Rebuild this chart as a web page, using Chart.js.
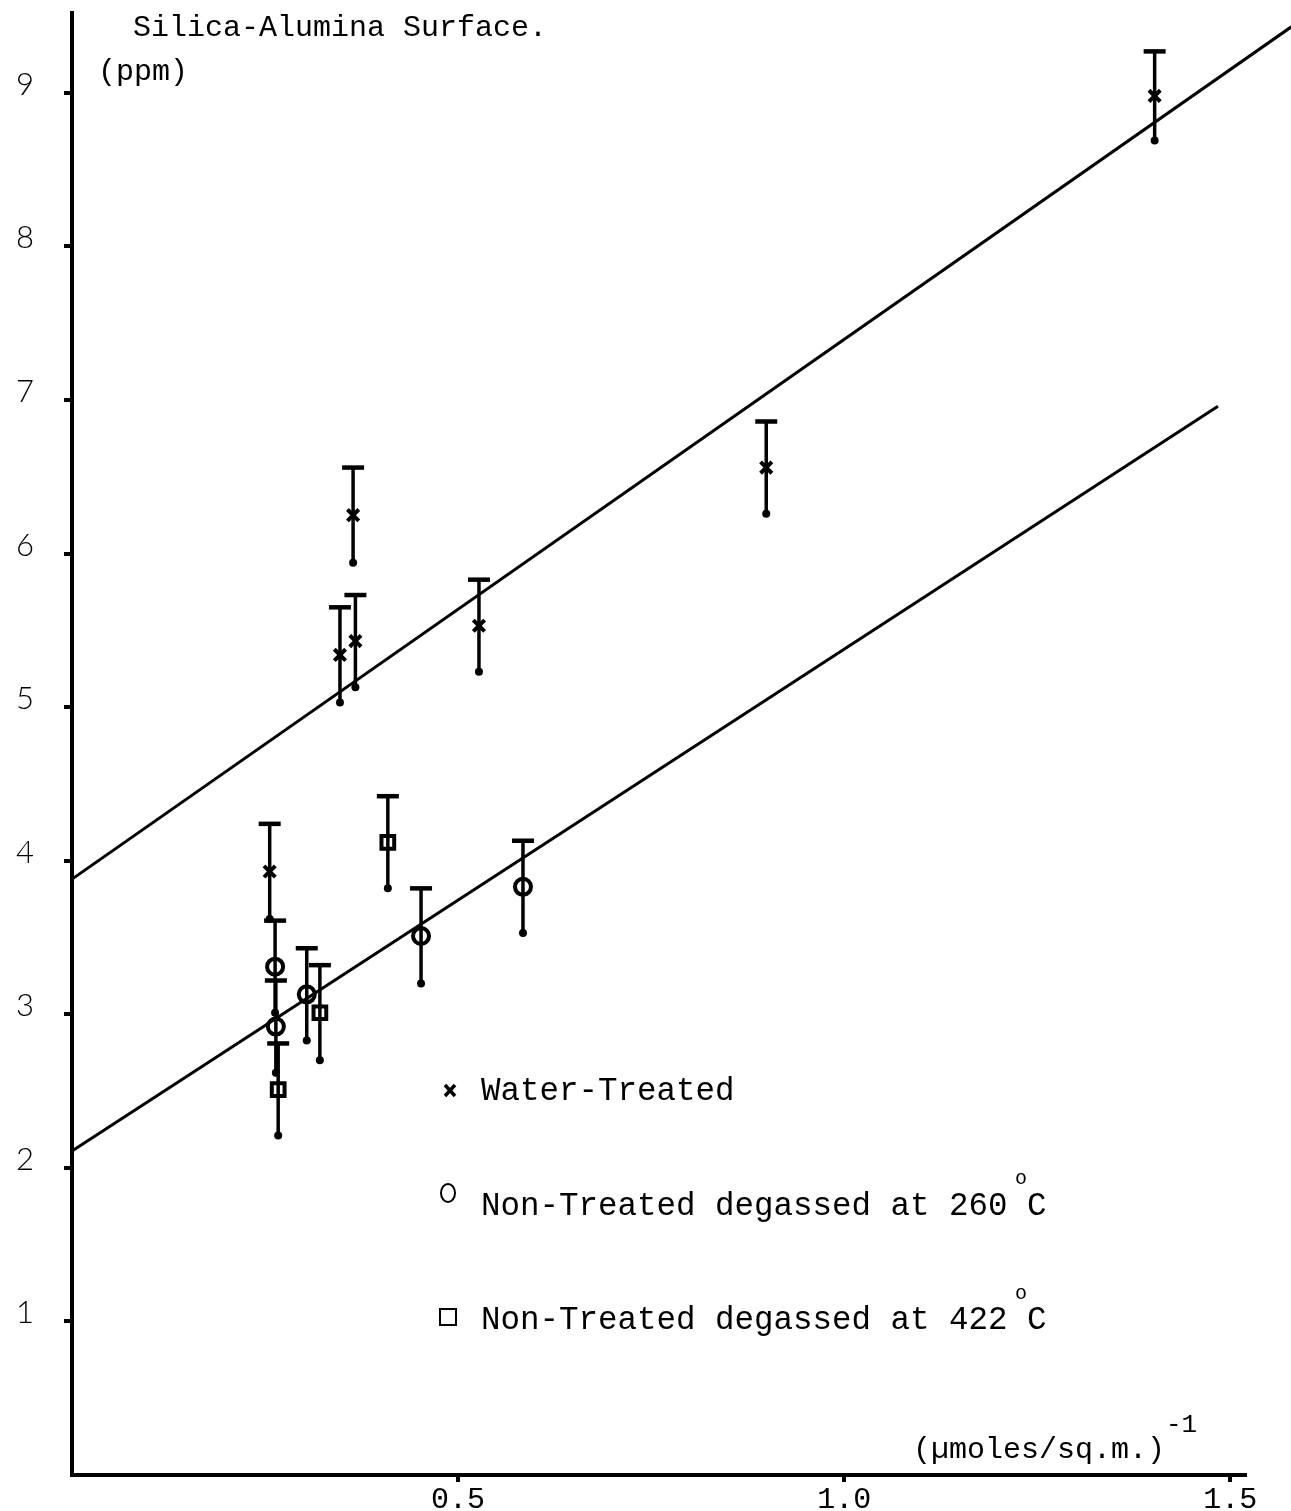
<!DOCTYPE html>
<html lang="en">
<head>
<meta charset="UTF-8">
<title>Silica-Alumina Surface</title>
<script src="https://cdn.jsdelivr.net/npm/chart.js"></script>
<style>
  html, body { margin: 0; padding: 0; background: #fff; }
  canvas { display: block; }
</style>
</head>
<body>
<canvas id="chart" width="1291" height="1511"></canvas>
<script>
// values
const xTicks = [0.5, 1.0, 1.5];
const yTicks = [1, 2, 3, 4, 5, 6, 7, 8, 9];

const waterX = [0.256, 0.347, 0.367, 0.364, 0.527, 0.899, 1.402];
const waterY = [3.93, 5.34, 5.43, 6.25, 5.53, 6.56, 8.98];
const waterErr = [0.31, 0.31, 0.3, 0.31, 0.3, 0.3, 0.29];

const deg260X = [0.263, 0.264, 0.304, 0.452, 0.584];
const deg260Y = [3.31, 2.92, 3.13, 3.51, 3.83];
const deg260Err = [0.3, 0.3, 0.3, 0.31, 0.3];

const deg422X = [0.267, 0.321, 0.409];
const deg422Y = [2.51, 3.01, 4.12];
const deg422Err = [0.3, 0.31, 0.3];

// fitted lines (end points)
const upperFitX = [0, 1.579];
const upperFitY = [3.88, 9.43];
const lowerFitX = [0, 1.484];
const lowerFitY = [2.11, 6.96];

const pts = (xs, ys) => xs.map((x, i) => ({ x: x, y: ys[i] }));
const errs = [waterErr, deg260Err, deg422Err];

const mono = '"Liberation Mono", "DejaVu Sans Mono", monospace';

// vertical error bars: T cap on top, dot at the bottom
const errorBars = {
  id: 'errorBars',
  afterDatasetsDraw(chart) {
    const ctx = chart.ctx;
    const xs = chart.scales.x, ys = chart.scales.y;
    ctx.save();
    ctx.strokeStyle = '#000';
    ctx.fillStyle = '#000';
    [2, 3, 4].forEach((di, k) => {
      chart.data.datasets[di].data.forEach((p, i) => {
        const e = errs[k][i];
        const px = xs.getPixelForValue(p.x);
        const top = ys.getPixelForValue(p.y + e);
        const bot = ys.getPixelForValue(p.y - e);
        ctx.lineWidth = 3.5;
        ctx.beginPath();
        ctx.moveTo(px, top);
        ctx.lineTo(px, bot);
        ctx.stroke();
        ctx.lineWidth = 4.5;
        ctx.beginPath();
        ctx.moveTo(px - 11, top);
        ctx.lineTo(px + 11, top);
        ctx.stroke();
        ctx.beginPath();
        ctx.arc(px, bot, 4, 0, Math.PI * 2);
        ctx.fill();
      });
    });
    ctx.restore();
  }
};

// title, axis unit and hand-lettered legend
const annotations = {
  id: 'annotations',
  afterDraw(chart) {
    const ctx = chart.ctx;
    ctx.save();
    ctx.fillStyle = '#000';
    ctx.strokeStyle = '#000';
    ctx.textBaseline = 'alphabetic';
    ctx.textAlign = 'left';

    ctx.font = '30px ' + mono;
    ctx.fillText('Silica-Alumina Surface.', 133, 36);
    ctx.fillText('(ppm)', 98, 80);

    ctx.font = '30px ' + mono;
    ctx.fillText('(\u00b5moles/sq.m.)', 913, 1458);
    ctx.font = '26px ' + mono;
    ctx.fillText('-1', 1166, 1432);

    // legend
    ctx.font = '32.5px ' + mono;
    ctx.fillText('Water-Treated', 481, 1100);
    ctx.fillText('Non-Treated degassed at 260 C', 481, 1215);
    ctx.fillText('Non-Treated degassed at 422 C', 481, 1329);
    ctx.font = '20px ' + mono;
    ctx.fillText('o', 1015, 1184);
    ctx.fillText('o', 1015, 1299);

    // legend markers
    ctx.lineWidth = 3.5;
    ctx.beginPath();
    ctx.moveTo(445, 1085); ctx.lineTo(455, 1096);
    ctx.moveTo(455, 1085); ctx.lineTo(445, 1096);
    ctx.stroke();
    ctx.lineWidth = 2;
    ctx.beginPath();
    ctx.ellipse(448, 1193, 7, 9, 0, 0, Math.PI * 2);
    ctx.stroke();
    ctx.strokeRect(440, 1309, 16, 16);
    ctx.restore();
  }
};

new Chart(document.getElementById('chart'), {
  type: 'scatter',
  data: {
    datasets: [
      {
        type: 'line',
        data: pts(upperFitX, upperFitY),
        borderColor: '#000',
        borderWidth: 3,
        pointRadius: 0,
        clip: false
      },
      {
        type: 'line',
        data: pts(lowerFitX, lowerFitY),
        borderColor: '#000',
        borderWidth: 3,
        pointRadius: 0,
        clip: false
      },
      {
        label: 'Water-Treated',
        data: pts(waterX, waterY),
        pointStyle: 'crossRot',
        pointRadius: 8,
        borderColor: '#000',
        borderWidth: 4
      },
      {
        label: 'Non-Treated degassed at 260 C',
        data: pts(deg260X, deg260Y),
        pointStyle: 'circle',
        pointRadius: 8,
        backgroundColor: 'rgba(255,255,255,0)',
        borderColor: '#000',
        borderWidth: 4
      },
      {
        label: 'Non-Treated degassed at 422 C',
        data: pts(deg422X, deg422Y),
        pointStyle: 'rect',
        pointRadius: 9,
        backgroundColor: 'rgba(255,255,255,0)',
        borderColor: '#000',
        borderWidth: 4
      }
    ]
  },
  options: {
    responsive: false,
    animation: false,
    devicePixelRatio: 1,
    layout: { padding: { left: 0, right: 46, top: 0, bottom: 0 } },
    plugins: {
      legend: { display: false },
      tooltip: { enabled: false }
    },
    scales: {
      x: {
        type: 'linear',
        min: 0,
        max: 1.519,
        afterBuildTicks: axis => { axis.ticks = xTicks.map(v => ({ value: v })); },
        afterFit: axis => { axis.height = 36; axis.paddingLeft = 0; axis.paddingRight = 0; },
        border: { color: '#000', width: 4 },
        grid: { drawOnChartArea: false, drawTicks: true, tickLength: 7, color: '#000', lineWidth: 4 },
        ticks: {
          color: '#000',
          padding: 0,
          maxRotation: 0,
          font: { family: mono, size: 30 },
          callback: v => v.toFixed(1)
        }
      },
      y: {
        type: 'linear',
        min: 0,
        max: 9.52,
        afterBuildTicks: axis => { axis.ticks = yTicks.map(v => ({ value: v })); },
        afterFit: axis => { axis.width = 72; axis.paddingTop = 0; axis.paddingBottom = 0; },
        border: { color: '#000', width: 4 },
        grid: { drawOnChartArea: false, drawTicks: true, tickLength: 8, color: '#000', lineWidth: 4 },
        ticks: {
          color: '#000',
          padding: 30,
          labelOffset: -8,
          font: { family: 'Lato, "Open Sans", sans-serif', size: 31, weight: '300' },
          callback: v => String(v)
        }
      }
    }
  },
  plugins: [errorBars, annotations]
});
</script>
</body>
</html>
